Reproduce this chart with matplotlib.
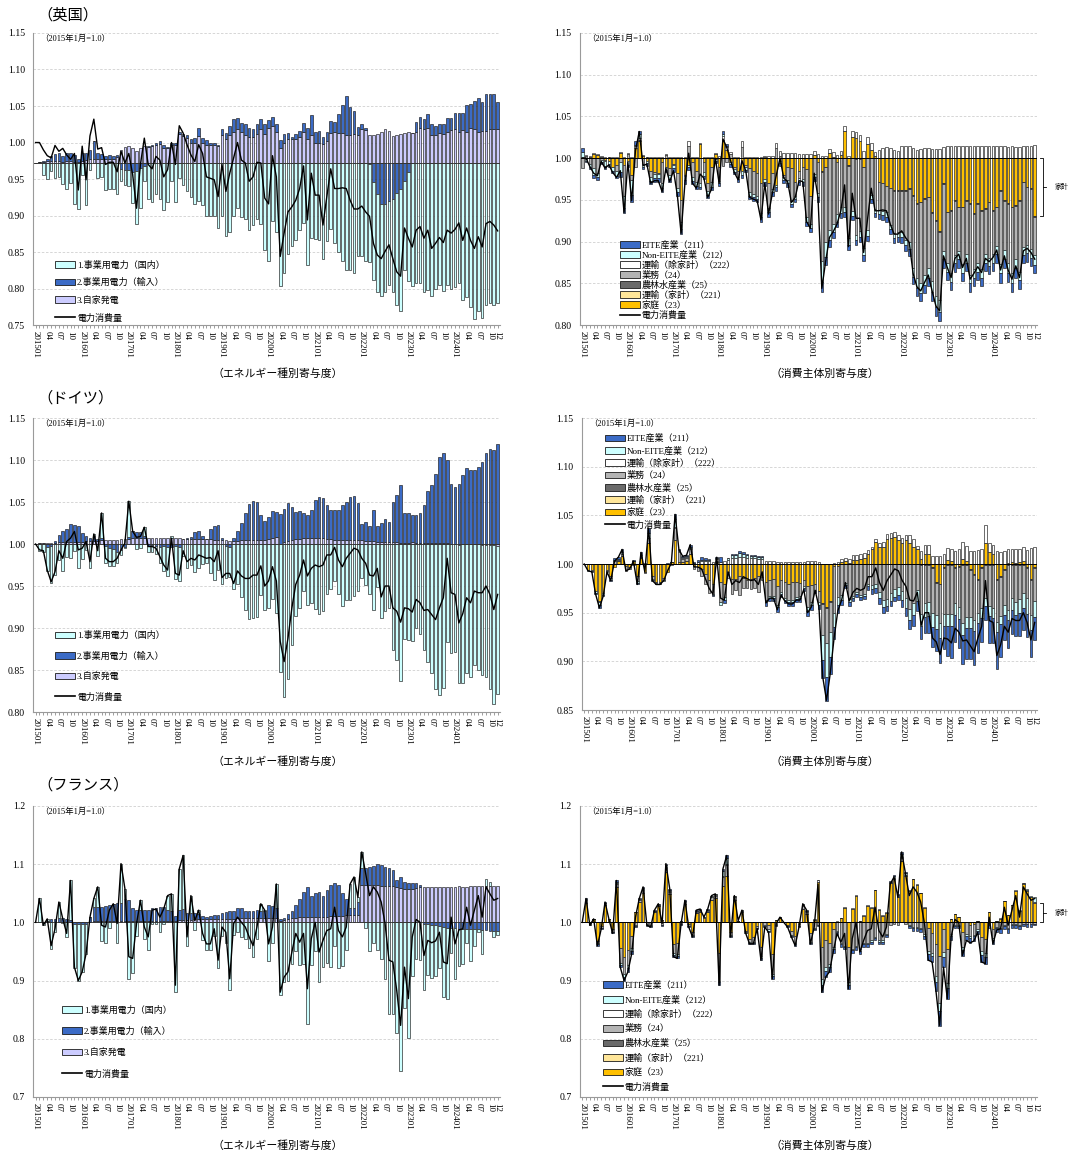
import numpy as np
import matplotlib.pyplot as plt
from matplotlib.patches import Patch
from matplotlib.lines import Line2D
from matplotlib.ticker import FormatStrFormatter
from matplotlib.transforms import blended_transform_factory

plt.rcParams['font.family'] = ['Liberation Serif', 'Noto Sans CJK JP']

# 2015年1月～2024年12月（月次）
months = [f'{y}{m:02d}' for y in range(2015, 2025) for m in range(1, 13)]
tick_labels = [m if m.endswith('01') else (m[4:] if int(m[4:]) % 3 == 1 else '') for m in months]
tick_labels[-1] = '12'

# ---------------- 英国 ----------------
# 電力消費量（2015年1月=100）
uk_line = [
    [100.0, 100.0, 99.0, 98.2, 97.9, 99.6, 98.8, 99.2, 98.3, 97.7, 98.5, 93.5],
    [99.5, 94.9, 100.9, 103.2, 99.1, 99.3, 97.0, 97.3, 97.3, 96.0, 98.8, 97.2],
    [98.5, 95.6, 91.0, 97.0, 100.6, 97.0, 96.4, 98.1, 97.6, 95.3, 96.3, 100.0],
    [97.0, 102.3, 101.3, 99.7, 98.3, 97.4, 99.7, 98.5, 95.3, 95.1, 94.9, 92.6],
    [97.0, 93.3, 95.8, 97.9, 100.0, 97.6, 97.2, 94.7, 95.3, 97.3, 97.2, 92.4],
    [91.6, 98.2, 95.3, 84.4, 87.6, 90.5, 91.2, 92.1, 93.7, 96.8, 89.4, 95.8],
    [92.8, 92.8, 88.7, 92.6, 96.4, 93.7, 93.7, 93.8, 93.7, 92.1, 90.9, 90.9],
    [91.3, 90.5, 89.9, 86.2, 84.6, 84.1, 85.1, 86.0, 84.1, 82.3, 81.7, 88.3],
    [86.9, 85.7, 88.0, 88.5, 86.9, 88.0, 85.5, 86.2, 87.0, 86.3, 88.0, 87.6],
    [88.1, 89.0, 86.6, 88.3, 86.6, 85.5, 87.1, 85.7, 88.9, 89.2, 88.7, 87.9],
]
# エネルギー種別寄与度（%ポイント）
uk_own = [
    [0.0, 0.1, 0.2, 0.3, 0.3, 0.3, 0.3, 0.2, 0.3, 0.3, 0.2, 0.2],
    [0.3, 0.4, 0.5, 0.6, 0.6, 0.5, 0.5, 0.5, 0.5, 0.8, 1.8, 2.2],
    [2.3, 2.1, 1.6, 2.1, 2.3, 2.2, 2.3, 2.4, 2.6, 2.1, 2.0, 2.5],
    [2.5, 4.0, 3.7, 3.4, 2.8, 2.8, 3.7, 2.7, 2.5, 2.4, 2.4, 2.3],
    [3.8, 3.3, 3.8, 4.3, 4.6, 4.3, 3.8, 3.6, 3.6, 4.0, 4.6, 4.0],
    [4.8, 5.0, 4.3, 2.1, 2.8, 3.3, 3.3, 3.3, 3.6, 4.3, 3.3, 3.8],
    [2.8, 2.8, 2.6, 3.0, 4.1, 4.3, 4.1, 4.1, 3.8, 3.8, 4.0, 3.8],
    [4.6, 4.5, 3.8, 3.8, 4.0, 4.3, 4.6, 4.4, 3.7, 3.8, 4.0, 4.1],
    [4.3, 4.1, 4.3, 4.8, 4.6, 4.8, 3.8, 3.8, 4.1, 4.0, 4.3, 4.5],
    [4.6, 4.3, 4.5, 4.3, 4.8, 4.6, 4.3, 4.4, 4.4, 4.6, 4.6, 4.7],
]
uk_imp = [
    [0.0, 0.1, 0.1, 0.3, 0.7, 0.9, 1.0, 0.8, 1.1, 1.0, 0.9, 0.4],
    [1.0, 1.0, 1.3, 2.4, 0.7, 0.7, 0.5, 0.6, 0.5, 0.3, -0.8, -1.0],
    [-1.0, -1.2, -1.1, -0.7, -0.4, 0.1, 0.2, 0.4, 0.4, 0.3, 0.2, 0.2],
    [0.3, 0.3, 0.3, 0.4, 0.5, 0.6, 1.1, 0.7, 0.6, 0.4, 0.3, 0.2],
    [0.8, 0.8, 1.3, 1.7, 1.6, 1.2, 1.5, 1.2, 1.1, 1.3, 1.4, 1.3],
    [1.1, 1.3, 1.1, 1.0, 1.1, 0.8, 0.3, 0.7, 0.8, 1.2, 1.5, 2.8],
    [1.5, 1.6, 1.0, 1.3, 1.7, 1.3, 2.6, 3.9, 5.4, 3.9, 3.1, 1.1],
    [0.7, 0.3, -0.2, -2.6, -4.2, -5.6, -5.6, -5.2, -4.9, -4.1, -3.5, -2.5],
    [-1.2, 0.0, 1.3, 1.5, 1.4, 1.9, 1.5, 1.2, 1.2, 1.4, 1.9, 1.7],
    [2.2, 2.5, 2.3, 3.7, 3.3, 3.9, 4.6, 3.9, 5.1, 4.9, 4.9, 3.6],
]
uk_dom = [
    [0.0, 0.0, -1.6, -2.2, -1.1, -2.1, -1.9, -2.9, -3.5, -2.7, -5.6, -6.3],
    [-1.7, -5.8, -0.9, 0.0, -2.1, -1.9, -3.7, -3.5, -3.5, -4.3, -1.7, -2.0],
    [-2.2, -4.3, -7.3, -5.4, -2.0, -5.0, -5.3, -4.2, -5.0, -6.5, -5.3, -2.5],
    [-5.3, -2.1, -3.0, -3.8, -4.7, -5.6, -5.2, -5.8, -7.3, -7.2, -7.2, -8.9],
    [-7.2, -10.0, -9.4, -7.2, -6.2, -7.4, -7.7, -9.2, -8.5, -7.7, -8.4, -11.9],
    [-13.4, -7.9, -9.5, -16.8, -15.1, -12.5, -11.4, -10.6, -9.2, -8.2, -14.0, -10.3],
    [-10.4, -10.5, -13.2, -10.7, -9.0, -11.0, -12.2, -13.4, -14.7, -14.7, -15.0, -12.7],
    [-12.8, -13.4, -13.4, -13.4, -13.4, -12.6, -12.1, -11.5, -12.8, -15.3, -16.7, -12.1],
    [-15.0, -16.8, -16.4, -16.5, -17.6, -17.4, -18.2, -17.3, -16.7, -17.5, -16.7, -17.2],
    [-17.0, -16.5, -18.7, -18.4, -19.7, -21.4, -20.3, -21.2, -19.4, -19.2, -19.5, -19.2],
]
# 消費主体別寄与度（%ポイント）
uk_eite = [
    [0.5, -0.1, -0.2, -0.4, -0.3, -0.2, -0.4, -0.3, -0.3, -0.3, -0.5, -0.6],
    [-0.3, -0.8, 0.4, 0.3, -0.3, -0.3, -0.4, -0.4, -0.4, -0.5, -0.3, -0.4],
    [-0.4, -0.4, -0.6, -0.5, -0.3, -0.4, -0.4, -0.3, -0.4, -0.4, -0.4, -0.3],
    [-0.3, 0.3, 0.2, -0.3, -0.3, -0.3, -0.4, -0.3, -0.4, -0.4, -0.4, -0.5],
    [-0.4, -0.5, -0.4, -0.4, -0.3, -0.4, -0.4, -0.4, -0.4, -0.4, -0.4, -0.5],
    [-0.5, -0.4, -0.5, -1.2, -1.0, -0.8, -0.7, -0.6, -0.6, -0.5, -0.6, -0.5],
    [-0.6, -0.6, -0.7, -0.6, -0.5, -0.5, -0.6, -0.6, -0.6, -0.6, -0.6, -0.7],
    [-0.7, -0.7, -0.8, -0.9, -1.0, -1.0, -1.0, -1.0, -1.1, -1.1, -1.1, -1.0],
    [-1.0, -1.0, -1.0, -1.0, -1.0, -1.0, -1.0, -1.0, -1.0, -1.0, -1.0, -1.0],
    [-1.0, -1.0, -1.1, -1.1, -1.1, -1.1, -1.1, -1.1, -1.0, -1.0, -1.0, -1.0],
]
uk_neite = [
    [0.6, -0.2, -0.4, -0.8, -0.5, -0.3, -0.6, -0.4, -0.4, -0.6, -1.2, -1.5],
    [-0.5, -1.8, 0.2, 0.5, -0.3, -0.3, -0.5, -0.5, -0.5, -0.6, -0.4, -0.5],
    [-0.4, -0.5, -0.8, -0.5, -0.3, -0.5, -0.5, -0.4, -0.5, -0.5, -0.5, -0.2],
    [-0.3, 0.3, 0.2, -0.2, -0.3, -0.3, -0.5, -0.3, -0.4, -0.4, -0.4, -0.5],
    [-0.4, -0.5, -0.4, -0.3, -0.3, -0.3, -0.4, -0.4, -0.4, -0.4, -0.4, -0.5],
    [-0.5, -0.4, -0.5, -2.5, -1.8, -1.2, -1.0, -1.0, -0.8, -0.6, -0.8, -0.6],
    [-0.6, -0.8, -0.8, -0.7, -0.5, -0.5, -0.5, -0.5, -0.5, -0.5, -0.6, -0.6],
    [-0.6, -0.6, -0.8, -1.0, -1.2, -1.2, -1.2, -1.2, -1.3, -1.3, -1.4, -1.0],
    [-1.0, -1.0, -1.0, -1.0, -1.0, -1.0, -1.0, -1.0, -1.0, -1.0, -1.0, -1.0],
    [-1.0, -1.0, -1.1, -1.1, -1.1, -1.1, -1.1, -1.0, -1.0, -1.0, -1.0, -1.2],
]
uk_trn = [
    [0.1, 0.1, 0.1, 0.1, 0.1, 0.1, 0.1, 0.1, 0.1, 0.1, 0.1, 0.1],
    [0.1, 0.1, 0.2, 0.2, 0.1, 0.1, 0.1, 0.1, 0.1, 0.1, 0.1, 0.1],
    [0.1, 0.1, 0.1, 0.1, 0.6, 0.1, 0.1, 0.1, 0.1, 0.1, 0.1, 0.1],
    [0.3, 0.4, 0.3, 0.2, 0.2, 0.2, 0.8, 0.2, 0.2, 0.2, 0.2, 0.2],
    [0.2, 0.3, 0.3, 0.6, 0.6, 0.6, 0.6, 0.6, 0.6, 0.5, 0.5, 0.5],
    [0.5, 0.5, 0.5, 0.3, 0.3, 0.5, 0.6, 0.4, 0.5, 0.5, 0.3, 0.7],
    [0.7, 0.8, 0.9, 0.8, 0.8, 0.5, 1.0, 1.2, 1.3, 1.2, 1.0, 0.9],
    [1.4, 1.5, 1.5, 1.2, 1.0, 1.1, 1.2, 1.2, 1.1, 1.1, 1.1, 1.3],
    [1.4, 1.4, 1.5, 1.5, 1.5, 1.4, 1.4, 1.4, 1.5, 1.5, 1.4, 1.4],
    [1.5, 1.4, 1.4, 1.4, 1.3, 1.4, 1.3, 1.3, 1.4, 1.5, 1.5, 1.6],
]
uk_biz = [
    [-1.2, 0.3, -0.7, -1.2, -1.8, -0.2, -0.1, 0.1, -0.1, -0.7, -0.5, -3.7],
    [0.5, -0.6, -1.1, 0.2, -0.7, 0.1, -0.7, -0.3, -0.1, -2.5, 0.4, -0.8],
    [-0.1, -1.8, -2.7, -0.1, 1.4, -1.7, -1.3, -3.0, -1.1, -0.9, -1.9, -0.1],
    [-1.7, -0.9, -0.4, 0.5, -0.3, -0.7, 1.3, -0.3, -2.9, -2.8, -2.7, -3.6],
    [0.1, -3.0, -1.9, 1.2, 0.3, -0.3, -1.6, -3.9, -1.7, -0.9, -1.5, -5.8],
    [-3.4, -1.9, -3.7, -10.7, -8.9, -8.6, -7.9, -6.2, -5.8, -5.9, -8.7, -6.3],
    [-9.1, -8.6, -9.7, -8.6, -4.4, -6.1, -3.4, -3.3, -3.2, -4.4, -5.1, -4.9],
    [-5.0, -5.9, -6.4, -8.7, -8.8, -9.6, -9.1, -8.4, -8.1, -9.0, -8.2, -8.0],
    [-6.1, -7.5, -6.5, -5.2, -6.8, -6.4, -8.5, -6.6, -7.1, -7.0, -5.4, -6.6],
    [-5.2, -4.6, -8.8, -5.9, -7.1, -7.9, -6.4, -8.5, -7.7, -6.9, -7.2, -4.6],
]
uk_agr = [
    [0.0, 0.0, 0.0, 0.0, 0.0, 0.0, 0.0, 0.0, 0.0, 0.0, 0.0, 0.0],
    [0.0, 0.0, 0.0, 0.0, 0.0, 0.0, 0.0, 0.0, 0.0, 0.0, 0.0, 0.0],
    [0.0, 0.0, 0.0, 0.0, 0.0, 0.0, 0.0, 0.0, 0.0, 0.0, 0.0, 0.0],
    [0.0, 0.0, 0.0, 0.0, 0.0, 0.0, 0.0, 0.0, 0.0, 0.0, 0.0, 0.0],
    [0.0, 0.0, 0.0, 0.0, 0.0, 0.0, 0.0, 0.0, 0.0, 0.0, 0.0, 0.0],
    [0.0, 0.0, 0.0, -0.1, -0.1, 0.0, 0.0, 0.0, 0.0, 0.0, -0.1, 0.0],
    [-0.1, -0.1, -0.1, 0.0, 0.0, 0.0, 0.0, 0.0, 0.0, 0.0, -0.1, -0.1],
    [-0.1, -0.1, -0.1, -0.1, -0.1, -0.1, -0.1, -0.1, -0.1, -0.1, -0.1, -0.1],
    [-0.1, -0.1, -0.1, -0.1, -0.1, -0.1, -0.1, -0.1, -0.1, -0.1, -0.1, -0.1],
    [-0.1, -0.1, -0.1, -0.1, -0.1, -0.1, -0.1, -0.1, -0.1, -0.1, -0.1, -0.1],
]
uk_trh = [
    [0.0, 0.0, 0.0, 0.0, 0.0, 0.0, 0.0, 0.0, 0.0, 0.0, 0.0, 0.0],
    [0.0, 0.0, 0.0, 0.0, 0.0, 0.0, 0.0, 0.0, 0.0, 0.0, 0.0, 0.0],
    [0.0, 0.0, 0.0, 0.0, 0.0, 0.0, 0.0, 0.0, 0.0, 0.0, 0.0, 0.0],
    [0.0, 0.0, 0.0, 0.0, 0.0, 0.0, 0.0, 0.0, 0.0, 0.0, 0.0, 0.0],
    [0.0, 0.0, 0.0, 0.0, 0.0, 0.0, 0.0, 0.0, 0.0, 0.0, 0.0, 0.0],
    [0.0, 0.0, 0.0, 0.0, 0.0, 0.0, 0.0, 0.0, 0.0, 0.0, 0.0, 0.0],
    [0.0, 0.0, 0.0, 0.0, 0.0, 0.0, 0.0, 0.0, 0.0, 0.0, 0.0, 0.0],
    [0.0, 0.0, 0.0, 0.0, 0.0, 0.0, 0.0, 0.0, 0.0, 0.0, 0.0, 0.0],
    [0.0, 0.0, 0.0, 0.0, 0.0, 0.0, 0.0, 0.0, 0.0, 0.0, 0.0, 0.0],
    [0.0, 0.0, 0.0, 0.0, 0.0, 0.0, 0.0, 0.0, 0.0, 0.0, 0.0, 0.0],
]
uk_hh = [
    [0.0, -0.1, 0.2, 0.5, 0.4, 0.2, -0.2, -0.3, -1.0, -0.8, 0.6, -0.8],
    [-0.3, -2.0, 1.2, 2.0, 0.3, -0.3, -1.5, -1.6, -1.8, -0.5, -1.0, -1.2],
    [-0.7, -1.8, -5.0, -2.0, -0.8, -0.5, -1.5, 1.7, -0.5, -3.0, -1.0, 0.5],
    [-1.0, 2.2, 1.0, -0.5, -1.0, -1.5, -1.5, -0.8, -1.2, -1.5, -1.8, -3.0],
    [-2.5, -3.0, -1.8, -3.2, -0.3, -2.0, -1.0, -1.2, -2.8, -1.5, -1.0, -1.3],
    [-4.5, 0.4, -0.5, -1.5, -1.0, 0.6, 0.2, -0.5, 0.4, 3.3, -0.8, 2.5],
    [2.4, 2.0, -1.0, 1.7, 1.0, 0.3, -2.8, -3.0, -3.3, -3.6, -3.8, -3.8],
    [-3.8, -3.8, -3.6, -4.4, -5.4, -5.2, -4.8, -4.6, -6.5, -7.4, -8.7, -3.0],
    [-6.4, -6.2, -5.0, -5.8, -5.8, -5.0, -5.4, -6.6, -5.4, -6.2, -6.0, -5.2],
    [-6.2, -5.8, -3.8, -5.0, -5.4, -5.8, -5.6, -5.0, -2.8, -3.4, -3.6, -6.9],
]

# ---------------- ドイツ ----------------
de_line = [
    [100.0, 99.3, 99.2, 96.9, 95.5, 96.7, 99.2, 98.3, 100.3, 100.7, 101.5, 99.3],
    [99.5, 100.3, 97.9, 101.2, 99.2, 103.7, 98.3, 97.9, 97.9, 98.3, 99.3, 100.1],
    [105.1, 101.5, 100.8, 100.9, 102.0, 99.7, 99.7, 99.5, 98.5, 97.5, 96.9, 100.7],
    [96.5, 96.3, 99.2, 97.9, 98.3, 98.1, 98.7, 98.5, 98.3, 98.4, 97.9, 99.2],
    [96.0, 96.5, 96.5, 95.3, 96.8, 96.2, 95.9, 95.9, 96.3, 96.3, 97.4, 95.0],
    [95.6, 97.3, 95.6, 88.4, 86.0, 88.8, 92.4, 95.2, 96.3, 98.1, 96.2, 97.1],
    [97.5, 97.3, 97.5, 98.7, 98.7, 99.6, 98.1, 97.3, 98.3, 98.9, 99.5, 99.3],
    [98.3, 97.7, 96.3, 96.2, 97.1, 93.7, 95.0, 95.0, 92.4, 92.0, 90.7, 92.4],
    [92.3, 91.9, 93.4, 93.0, 92.1, 92.2, 91.6, 91.0, 92.4, 93.6, 98.3, 94.2],
    [94.0, 90.6, 91.7, 93.6, 93.0, 94.4, 94.2, 94.2, 95.0, 94.0, 92.2, 94.0],
]
de_own = [
    [0.0, 0.1, 0.1, 0.1, 0.1, 0.1, 0.2, 0.2, 0.2, 0.2, 0.3, 0.3],
    [0.3, 0.4, 0.4, 0.4, 0.4, 0.5, 0.5, 0.5, 0.5, 0.5, 0.6, 0.6],
    [0.6, 0.7, 0.7, 0.7, 0.7, 0.7, 0.7, 0.7, 0.7, 0.7, 0.7, 0.7],
    [0.7, 0.7, 0.6, 0.6, 0.6, 0.6, 0.6, 0.6, 0.6, 0.6, 0.5, 0.5],
    [0.5, 0.5, 0.4, 0.4, 0.4, 0.5, 0.5, 0.5, 0.5, 0.5, 0.5, 0.5],
    [0.6, 0.7, 0.8, 0.0, 0.2, 0.4, 0.5, 0.6, 0.6, 0.7, 0.7, 0.7],
    [0.7, 0.7, 0.7, 0.6, 0.6, 0.5, 0.5, 0.5, 0.5, 0.5, 0.5, 0.5],
    [0.5, 0.4, 0.4, 0.4, 0.3, 0.3, 0.3, 0.2, 0.2, 0.2, 0.1, 0.1],
    [0.1, 0.2, 0.1, 0.1, 0.1, 0.1, 0.1, 0.1, 0.1, 0.1, 0.1, 0.0],
    [0.0, -0.1, 0.0, 0.0, 0.0, 0.0, 0.0, -0.1, -0.1, -0.1, -0.1, -0.2],
]
de_imp = [
    [0.0, 0.0, 0.0, -0.4, -0.2, 0.3, 0.9, 1.3, 1.6, 2.2, 2.0, 1.9],
    [1.0, 0.6, 0.3, 0.5, 0.2, 0.2, -0.2, -0.5, -0.6, -0.9, -0.7, -0.3],
    [0.2, 0.8, 0.7, 0.7, 0.2, -0.2, -0.1, -0.2, -0.3, -0.2, -0.3, -0.3],
    [-0.2, -0.3, 0.0, 0.1, 0.2, 0.8, 0.9, 0.3, 0.0, 1.2, 1.6, 1.8],
    [0.2, -0.2, -0.4, 0.3, 1.2, 2.0, 3.2, 4.3, 4.6, 4.5, 3.0, 2.3],
    [2.6, 3.2, 3.0, 3.6, 4.0, 4.5, 3.9, 3.2, 3.3, 3.0, 2.8, 3.4],
    [4.5, 4.9, 4.8, 4.1, 3.4, 3.5, 3.6, 4.2, 4.5, 5.1, 5.2, 4.4],
    [1.9, 2.2, 1.8, 3.6, 1.9, 2.2, 2.7, 2.4, 4.8, 5.6, 6.9, 3.6],
    [3.6, 3.3, 3.3, 3.6, 4.6, 6.2, 6.9, 8.2, 10.3, 10.7, 9.9, 7.2],
    [6.8, 7.1, 8.2, 9.0, 8.8, 8.8, 9.2, 9.8, 10.8, 11.3, 11.2, 11.9],
]
de_dom = [
    [0.0, -0.8, -0.9, -2.8, -4.4, -3.7, -1.9, -3.2, -1.5, -1.7, -0.8, -2.9],
    [-1.8, -0.7, -2.8, 0.3, -1.4, 3.0, -2.0, -2.1, -2.0, -1.3, -0.6, -0.2],
    [4.3, 0.0, -0.6, -0.5, 1.1, -0.8, -0.9, -1.0, -1.9, -3.0, -3.5, 0.3],
    [-4.0, -4.1, -1.4, -2.8, -2.5, -3.3, -2.8, -2.4, -2.3, -3.4, -4.3, -3.1],
    [-4.7, -3.8, -3.5, -5.4, -4.8, -6.3, -7.8, -8.9, -8.8, -8.7, -6.1, -7.8],
    [-7.6, -6.6, -8.2, -15.2, -18.2, -16.1, -12.0, -8.6, -7.6, -5.6, -7.3, -7.0],
    [-7.7, -8.3, -8.0, -6.0, -5.3, -4.4, -6.0, -7.4, -6.7, -6.7, -6.2, -5.6],
    [-4.1, -4.9, -5.9, -7.8, -5.1, -8.8, -8.0, -7.6, -12.6, -13.8, -16.3, -11.3],
    [-11.4, -11.6, -10.0, -10.7, -12.6, -14.1, -15.4, -17.3, -18.0, -17.2, -11.7, -13.0],
    [-12.8, -16.4, -16.5, -15.4, -15.8, -14.4, -15.0, -15.5, -15.7, -17.2, -18.9, -17.7],
]
de_eite = [
    [0.0, 0.0, -0.1, -0.1, -0.3, -0.1, 0.0, -0.1, 0.2, 0.2, 0.3, 0.0],
    [0.0, 0.1, -0.2, 0.3, 0.1, 0.5, -0.1, -0.1, -0.1, 0.0, 0.1, 0.0],
    [0.5, 0.1, 0.1, 0.1, 0.2, 0.1, 0.2, 0.3, 0.2, 0.1, -0.1, 0.1],
    [0.5, -0.3, 0.0, 0.1, 0.1, 0.2, 0.2, 0.1, 0.1, 0.1, 0.1, 0.1],
    [-0.4, -0.3, -0.3, -0.5, -0.3, -0.3, -0.4, -0.4, -0.3, -0.4, -0.3, -0.5],
    [-0.5, -0.2, -0.4, -1.8, -2.5, -1.8, -1.2, -0.8, -0.5, -0.3, -0.4, -0.3],
    [-0.3, -0.3, -0.3, -0.4, -0.5, -0.5, -0.6, -0.6, -0.5, -0.5, -0.4, -0.5],
    [-0.7, -0.8, -1.0, -1.2, -1.0, -1.3, -1.7, -1.8, -2.0, -2.2, -2.6, -2.3],
    [-3.0, -3.3, -2.8, -3.0, -3.0, -3.2, -3.2, -3.5, -3.0, -2.5, -1.5, -2.8],
    [-2.6, -3.8, -3.4, -2.6, -2.9, -2.5, -2.2, -2.4, -2.3, -2.4, -2.7, -2.4],
]
de_neite = [
    [0.0, -0.1, -0.1, -0.2, -0.3, -0.2, -0.1, -0.2, 0.1, 0.1, 0.2, 0.0],
    [0.0, 0.0, -0.2, 0.2, 0.0, 0.5, -0.1, -0.1, -0.1, -0.1, 0.0, 0.0],
    [0.8, 0.1, 0.1, 0.1, 0.2, 0.0, 0.0, 0.1, 0.1, 0.1, -0.1, 0.1],
    [-0.3, -0.3, 0.2, 0.3, 0.3, 0.4, 0.3, 0.3, 0.2, 0.2, 0.2, 0.2],
    [-0.2, -0.2, -0.2, -0.2, -0.2, -0.2, -0.2, -0.2, -0.2, -0.2, -0.2, -0.4],
    [-0.3, -0.1, -0.3, -2.6, -3.5, -2.5, -1.5, -0.8, -0.5, -0.3, -0.3, -0.2],
    [-0.2, -0.2, -0.2, -0.3, -0.4, -0.5, -0.6, -0.7, -0.7, -0.8, -0.8, -0.8],
    [-0.9, -1.0, -1.1, -1.2, -1.1, -1.3, -1.4, -1.4, -1.5, -1.5, -1.5, -1.3],
    [-1.3, -1.3, -1.2, -1.2, -1.2, -1.2, -1.2, -1.1, -1.1, -1.0, -0.8, -1.0],
    [-1.0, -1.0, -0.9, -1.0, -1.0, -1.2, -1.3, -1.4, -1.5, -1.6, -1.6, -1.6],
]
de_trn = [
    [0.0, 0.0, 0.0, 0.0, 0.0, 0.0, 0.0, 0.0, 0.0, 0.0, 0.0, 0.0],
    [0.0, 0.0, 0.0, 0.0, 0.0, 0.0, 0.0, 0.0, 0.0, 0.0, 0.0, 0.0],
    [0.1, 0.1, 0.1, 0.1, 0.1, 0.1, 0.2, 0.3, 0.3, 0.3, 0.2, 0.2],
    [0.2, 0.3, 0.4, 0.6, 0.6, 0.7, 0.7, 0.6, 0.6, 0.6, 0.5, 0.5],
    [0.3, 0.3, 0.3, 0.2, 0.2, 0.2, 0.2, 0.2, 0.2, 0.2, 0.2, 0.3],
    [0.3, 0.3, 0.2, 0.0, 0.0, 0.0, 0.1, 0.2, 0.3, 0.3, 0.4, 0.5],
    [0.5, 0.5, 0.5, 0.4, 0.3, 0.3, 0.4, 0.5, 0.5, 0.5, 0.5, 0.5],
    [0.5, 0.5, 0.8, 0.8, 0.4, 0.8, 1.0, 1.0, 0.8, 0.8, 0.8, 1.0],
    [1.2, 1.2, 1.3, 1.5, 1.8, 1.6, 1.3, 1.3, 1.4, 1.5, 1.8, 1.0],
    [1.0, 1.3, 1.2, 1.3, 1.4, 1.3, 1.4, 1.3, 1.4, 1.4, 1.6, 1.7],
]
de_biz = [
    [0.0, 0.0, 0.0, 0.0, -0.1, 0.0, -0.1, -0.2, 0.3, 0.1, 0.2, -0.5],
    [-0.2, -0.1, -0.5, 0.1, -0.1, 0.5, -0.3, -0.1, -0.1, -0.2, 0.0, -0.1],
    [1.2, 1.0, 0.3, 0.3, 0.5, -0.3, -0.4, -0.7, -1.1, -1.4, -1.1, 0.1],
    [-2.1, -1.4, -0.6, -1.6, -1.2, -2.0, -1.1, -0.9, -1.1, -1.1, -1.7, -0.3],
    [-1.9, -1.7, -1.8, -1.9, -1.3, -1.7, -1.7, -1.9, -1.6, -1.4, -0.7, -2.1],
    [-1.7, -0.7, -1.1, -3.2, -3.6, -3.1, -4.8, -3.2, -3.2, -1.9, -3.6, -3.3],
    [-2.9, -3.2, -3.1, -2.0, -2.2, -2.0, -2.9, -3.7, -3.6, -3.0, -2.6, -2.4],
    [-2.8, -3.5, -4.6, -4.0, -2.7, -5.0, -3.9, -3.8, -4.6, -3.3, -4.0, -4.7],
    [-5.0, -5.0, -3.6, -4.1, -6.0, -5.3, -4.8, -4.7, -3.4, -4.1, -3.4, -4.2],
    [-4.4, -4.4, -4.0, -3.6, -4.6, -3.4, -3.8, -3.5, -2.9, -3.1, -3.6, -3.4],
]
de_agr = [
    [0.0, 0.0, 0.0, 0.0, 0.0, 0.0, 0.0, 0.0, 0.0, 0.0, 0.0, 0.0],
    [0.0, 0.0, 0.0, 0.0, 0.0, 0.0, 0.0, 0.0, 0.0, 0.0, 0.0, 0.0],
    [0.0, 0.0, 0.0, 0.0, 0.0, 0.0, 0.0, 0.0, 0.0, 0.0, 0.0, 0.0],
    [0.0, 0.0, 0.0, 0.0, 0.0, 0.0, 0.0, 0.0, 0.0, 0.0, 0.0, 0.0],
    [0.0, 0.0, 0.0, 0.0, 0.0, 0.0, 0.0, 0.0, 0.0, 0.0, 0.0, 0.0],
    [0.0, 0.0, 0.0, -0.1, -0.1, -0.1, 0.0, 0.0, 0.0, 0.0, 0.0, 0.0],
    [0.0, 0.0, 0.0, 0.0, 0.0, 0.0, 0.0, 0.0, 0.0, 0.0, 0.0, 0.0],
    [0.0, 0.0, 0.0, 0.0, 0.0, -0.1, -0.1, -0.1, -0.1, -0.1, -0.1, -0.1],
    [-0.1, -0.1, -0.1, -0.1, -0.1, -0.1, -0.1, -0.1, -0.1, -0.1, -0.1, -0.1],
    [-0.1, -0.1, -0.1, -0.1, -0.1, -0.1, -0.1, -0.1, -0.1, -0.1, -0.1, -0.1],
]
de_trh = [
    [0.0, 0.0, 0.0, 0.0, 0.0, 0.0, 0.0, 0.0, 0.0, 0.0, 0.0, 0.0],
    [0.0, 0.0, 0.0, 0.0, 0.0, 0.0, 0.0, 0.0, 0.0, 0.0, 0.0, 0.0],
    [0.0, 0.0, 0.0, 0.0, 0.0, 0.0, 0.0, 0.0, 0.0, 0.0, 0.0, 0.0],
    [0.0, 0.0, 0.0, 0.0, 0.0, 0.0, 0.0, 0.0, 0.0, 0.0, 0.0, 0.0],
    [0.0, 0.0, 0.0, 0.0, 0.0, 0.0, 0.0, 0.0, 0.0, 0.0, 0.0, 0.0],
    [0.0, 0.0, 0.0, 0.0, 0.0, 0.0, 0.0, 0.0, 0.0, 0.0, 0.0, 0.0],
    [0.0, 0.0, 0.0, 0.0, 0.0, 0.0, 0.0, 0.0, 0.0, 0.0, 0.0, 0.0],
    [0.0, 0.0, 0.0, 0.0, 0.0, 0.0, 0.0, 0.0, 0.0, 0.0, 0.0, 0.0],
    [0.0, 0.0, 0.0, 0.0, 0.0, 0.0, 0.0, 0.0, 0.0, 0.0, 0.0, 0.0],
    [0.0, 0.0, 0.0, 0.0, 0.0, 0.0, 0.0, 0.0, 0.0, 0.0, 0.0, 0.0],
]
de_hh = [
    [0.0, -0.6, -0.6, -2.8, -3.8, -3.0, -0.6, -1.2, -0.3, 0.3, 0.8, -0.2],
    [-0.3, 0.3, -1.2, 0.6, -0.8, 2.2, -1.2, -1.8, -1.8, -1.4, -0.8, 0.2],
    [2.5, 0.2, 0.2, 0.3, 1.0, -0.2, -0.3, -0.5, -1.0, -1.6, -2.0, 0.2],
    [-1.8, -2.0, -0.8, -1.5, -1.5, -1.2, -1.4, -1.6, -1.5, -1.4, -1.2, -1.3],
    [-1.8, -1.6, -1.5, -2.3, -1.6, -1.8, -2.0, -1.8, -1.8, -1.9, -1.6, -2.3],
    [-2.2, -2.0, -2.8, -4.0, -4.4, -3.8, -0.2, -0.2, 0.2, 0.3, 0.1, 0.4],
    [0.4, 0.5, 0.6, 1.0, 1.5, 2.3, 1.8, 1.8, 2.6, 2.7, 2.8, 2.5],
    [2.2, 2.5, 2.2, 1.8, 1.5, 0.5, 1.0, 1.0, -0.3, -1.8, -2.0, -0.3],
    [0.4, 0.3, -0.3, -0.2, 0.5, 0.3, -0.5, -1.0, -1.5, -0.3, 2.2, 1.2],
    [1.0, -1.5, -1.2, -0.5, 0.1, 0.2, 0.1, 0.2, 0.3, -0.3, -1.5, -0.3],
]

# ---------------- フランス ----------------
fr_line = [
    [100.0, 104.1, 99.5, 100.6, 96.0, 98.9, 103.5, 100.6, 98.1, 107.2, 92.3, 90.0],
    [91.5, 94.6, 100.9, 104.1, 106.1, 99.5, 99.2, 102.1, 103.2, 99.8, 110.1, 105.8],
    [94.1, 93.8, 99.8, 103.8, 99.2, 97.5, 102.1, 102.3, 100.9, 102.3, 104.6, 104.9],
    [89.2, 109.2, 111.5, 97.5, 104.6, 100.3, 102.1, 98.1, 96.3, 96.3, 98.9, 93.5],
    [99.2, 98.3, 90.3, 99.8, 100.9, 100.0, 99.2, 97.5, 96.0, 99.2, 103.2, 102.1],
    [96.3, 99.2, 106.6, 88.0, 90.6, 91.5, 94.9, 98.1, 96.6, 98.1, 88.6, 97.2],
    [100.0, 94.9, 96.9, 98.6, 98.9, 102.6, 98.6, 97.5, 99.2, 106.6, 107.8, 104.3],
    [112.1, 108.4, 104.6, 106.1, 105.2, 103.5, 99.8, 93.5, 93.2, 88.3, 82.3, 92.3],
    [86.9, 97.5, 100.5, 100.0, 94.3, 96.9, 96.5, 96.8, 98.3, 93.2, 92.9, 100.9],
    [96.3, 98.7, 98.9, 102.6, 99.5, 102.1, 104.6, 100.9, 106.1, 104.9, 103.8, 104.1],
]
fr_own = [
    [0.0, 0.0, 0.0, 0.1, 0.1, 0.1, 0.1, 0.1, 0.1, 0.1, 0.1, 0.1],
    [0.1, 0.1, 0.1, 0.2, 0.2, 0.2, 0.2, 0.2, 0.3, 0.3, 0.3, 0.3],
    [0.3, 0.3, 0.3, 0.3, 0.3, 0.3, 0.3, 0.3, 0.3, 0.3, 0.3, 0.3],
    [0.3, 0.4, 0.4, 0.4, 0.4, 0.5, 0.5, 0.5, 0.5, 0.5, 0.5, 0.5],
    [0.6, 0.6, 0.6, 0.6, 0.7, 0.7, 0.7, 0.7, 0.7, 0.8, 0.8, 0.8],
    [0.8, 0.8, 0.8, 0.3, 0.4, 0.6, 0.7, 0.8, 0.9, 1.0, 1.0, 1.0],
    [1.0, 1.0, 1.0, 1.0, 1.1, 1.1, 1.1, 1.1, 1.2, 1.2, 1.2, 1.3],
    [6.5, 6.5, 6.4, 6.4, 6.4, 6.3, 6.3, 6.2, 6.2, 6.0, 5.9, 5.8],
    [5.8, 5.8, 5.9, 6.0, 6.0, 6.0, 6.1, 6.1, 6.1, 6.0, 6.0, 6.1],
    [6.1, 6.2, 6.1, 6.1, 6.2, 6.2, 6.2, 6.3, 6.3, 6.3, 6.3, 6.3],
]
fr_imp = [
    [0.0, 0.0, 0.0, 0.2, 0.4, 0.5, 0.7, 0.6, 0.5, 0.3, -0.2, -0.3],
    [-0.3, -0.2, 0.8, 2.5, 2.5, 2.5, 2.6, 2.8, 2.9, 3.0, 3.0, 3.7],
    [3.5, 2.2, 1.8, 1.8, 1.8, 1.9, 2.1, 2.2, 2.3, 2.3, 1.9, 1.6],
    [0.8, 1.8, 1.9, 1.2, 1.2, 1.1, 0.9, 0.6, 0.5, 0.6, 0.8, 0.8],
    [1.0, 1.2, 1.4, 1.4, 1.8, 1.8, 1.3, 1.2, 1.3, 1.3, 1.2, 1.2],
    [2.2, 2.0, 1.7, 0.2, 0.4, 0.9, 1.3, 2.2, 3.1, 4.3, 5.0, 3.5],
    [4.0, 4.2, 3.5, 4.5, 5.4, 5.6, 5.4, 3.9, 2.8, 1.3, 1.3, 2.2],
    [2.8, 2.8, 3.1, 3.3, 3.6, 3.5, 3.2, 3.1, 2.8, 1.3, 1.9, 1.2],
    [1.0, 1.0, 0.9, 0.4, -0.2, -0.3, -0.4, -0.5, -0.6, -0.8, -0.9, -1.0],
    [-1.0, -1.1, -1.1, -1.1, -1.1, -1.2, -1.2, -1.3, -1.3, -1.4, -1.4, -1.5],
]
fr_dom = [
    [0.0, 4.1, -0.5, 0.3, -4.5, -1.7, 2.7, -0.1, -2.5, 6.8, -7.6, -9.8],
    [-8.3, -5.3, 0.0, 1.4, 3.4, -3.2, -3.6, -0.9, 0.0, -3.5, 6.8, 1.8],
    [-9.7, -8.7, -2.3, 1.7, -2.9, -4.7, -0.3, -0.2, -1.7, -0.3, 2.4, 3.0],
    [-11.9, 7.0, 9.2, -4.1, 3.0, -1.3, 0.7, -3.0, -4.7, -4.8, -2.4, -7.8],
    [-2.4, -3.5, -11.7, -2.2, -1.6, -2.5, -2.8, -4.4, -6.0, -2.9, 1.2, 0.1],
    [-6.7, -3.6, 4.1, -12.5, -10.2, -10.0, -7.1, -4.9, -7.4, -7.2, -17.4, -7.3],
    [-5.0, -10.3, -7.6, -6.9, -7.6, -4.1, -7.9, -7.5, -4.8, 4.1, 5.3, 0.8],
    [2.8, -0.9, -4.9, -3.6, -4.8, -6.3, -9.7, -15.8, -15.8, -19.0, -25.5, -14.7],
    [-19.9, -9.3, -6.3, -6.4, -11.5, -8.8, -9.2, -8.8, -7.2, -12.0, -12.2, -4.2],
    [-8.8, -6.4, -6.1, -2.4, -5.6, -2.9, -0.4, -4.1, 1.1, 0.7, -1.1, -0.7],
]
fr_eite = [
    [0.0, 0.1, -0.1, 0.0, -0.3, -0.1, 0.1, 0.0, -0.2, 0.2, -0.4, -0.6],
    [-0.6, -0.5, -0.2, 0.1, 0.2, -0.2, -0.2, 0.1, 0.1, -0.1, 0.3, 0.2],
    [-0.3, -0.4, -0.1, 0.1, -0.1, -0.2, 0.1, 0.1, 0.0, 0.1, 0.1, 0.1],
    [-0.5, 0.4, 0.5, -0.2, 0.1, 0.0, 0.0, -0.1, -0.2, -0.2, -0.1, -0.4],
    [-0.2, -0.3, -0.5, -0.2, 0.0, 0.0, -0.1, -0.2, -0.3, -0.1, 0.1, 0.1],
    [-0.3, -0.2, -0.1, -1.2, -1.0, -0.8, -0.6, -0.4, -0.4, -0.3, -0.8, -0.4],
    [-0.4, -0.5, -0.5, -0.5, -0.4, -0.3, -0.4, -0.4, -0.3, 0.1, 0.2, 0.1],
    [0.3, 0.2, -0.3, -0.4, -0.4, -0.4, -0.5, -1.0, -1.0, -1.5, -2.5, -1.8],
    [-1.8, -0.8, -0.4, -0.4, -1.0, -0.8, -0.8, -0.8, -0.6, -1.2, -1.2, -0.5],
    [-0.8, -0.6, -0.6, -0.5, -0.6, -0.5, -0.5, -0.6, -0.5, -0.5, -0.5, -0.3],
]
fr_neite = [
    [0.0, 0.1, -0.1, 0.0, -0.2, -0.1, 0.1, 0.0, -0.1, 0.3, -0.4, -0.5],
    [-0.6, -0.5, -0.1, 0.1, 0.2, -0.1, -0.1, 0.1, 0.1, -0.1, 0.3, 0.2],
    [-0.3, -0.3, 0.0, 0.1, -0.1, -0.1, 0.1, 0.1, 0.0, 0.1, 0.1, 0.1],
    [-0.3, 0.8, 0.9, -0.1, 0.1, 0.0, 0.1, -0.1, -0.1, -0.2, -0.1, -0.3],
    [-0.1, -0.2, -0.3, -0.1, 0.0, 0.0, -0.1, -0.1, -0.2, -0.1, 0.1, 0.1],
    [-0.2, -0.1, 0.0, -1.0, -0.8, -0.6, -0.4, -0.2, -0.3, -0.2, -0.5, -0.3],
    [-0.3, -0.4, -0.3, -0.3, -0.3, -0.2, -0.3, -0.3, -0.2, 0.2, 0.3, 0.2],
    [0.5, 0.3, -0.1, -0.2, -0.2, -0.2, -0.3, -0.5, -0.5, -1.0, -1.5, -0.8],
    [-0.8, -0.3, -0.1, -0.1, -0.5, -0.3, -0.3, -0.3, -0.2, -0.6, -0.6, -0.1],
    [-0.3, -0.2, -0.2, -0.1, -0.2, -0.1, -0.1, -0.1, 0.1, 0.2, 0.2, 0.8],
]
fr_trn = [
    [0.0, 0.0, 0.0, 0.0, 0.0, 0.0, 0.0, 0.0, 0.0, 0.1, 0.0, 0.0],
    [0.0, 0.0, 0.0, 0.1, 0.1, 0.0, 0.0, 0.0, 0.0, 0.0, 0.1, 0.1],
    [0.0, 0.0, 0.0, 0.1, 0.0, 0.0, 0.1, 0.1, 0.1, 0.1, 0.1, 0.1],
    [0.0, 0.2, 0.2, 0.0, 0.1, 0.0, 0.1, 0.0, 0.0, 0.0, 0.0, 0.0],
    [0.0, 0.0, 0.0, 0.0, 0.0, 0.0, 0.0, 0.0, 0.0, 0.0, 0.2, 0.2],
    [0.1, 0.1, 0.2, 0.0, 0.0, 0.0, 0.1, 0.1, 0.1, 0.1, 0.1, 0.1],
    [0.1, 0.1, 0.1, 0.1, 0.1, 0.1, 0.1, 0.1, 0.1, 0.1, 0.1, 0.1],
    [0.2, 0.2, 0.1, 0.1, 0.1, 0.1, 0.1, 0.0, 0.0, 0.0, 0.0, 0.0],
    [0.0, 0.0, 0.0, 0.0, 0.0, 0.0, 0.0, 0.0, 0.0, 0.0, 0.0, 0.0],
    [0.1, 0.1, 0.1, 0.1, 0.1, 0.1, 0.1, 0.1, 0.1, 0.1, 0.1, 0.2],
]
fr_biz = [
    [0.0, 0.5, -0.2, 0.1, -0.3, -0.2, 0.3, 0.0, -0.5, 0.6, -2.5, -3.0],
    [-2.5, -2.0, -0.5, 0.3, 0.5, -0.3, -0.5, 0.2, 0.2, -0.4, 0.8, 0.5],
    [-1.5, -2.0, -0.3, 0.3, -0.3, -0.5, 0.2, 0.2, 0.0, 0.2, 0.4, 0.4],
    [-4.8, 1.5, 2.0, -0.5, 0.5, 0.0, 0.2, -0.3, -0.5, -0.8, -0.3, -1.5],
    [-0.5, -0.8, -3.5, -0.3, 0.2, 0.0, -0.2, -0.8, -1.2, -0.4, 0.5, 0.3],
    [-1.5, -1.0, -0.5, -5.5, -4.5, -3.5, -3.0, -1.5, -3.5, -4.0, -6.0, -4.5],
    [-4.0, -4.5, -3.5, -3.5, -3.0, -2.5, -3.0, -3.0, -2.0, -0.5, -0.3, -0.5],
    [0.5, -0.3, -0.5, -0.8, -0.8, -1.0, -2.0, -4.0, -3.5, -5.5, -8.0, -4.0],
    [-6.0, -2.0, -0.5, -0.5, -2.5, -2.0, -2.0, -1.8, -1.2, -2.5, -2.5, -0.3],
    [-1.5, -0.8, -1.0, -0.5, -1.0, -0.3, -0.3, -0.5, -0.2, -0.3, -0.3, -0.2],
]
fr_agr = [
    [0.0, 0.0, 0.0, 0.0, 0.0, 0.0, 0.0, 0.0, 0.0, 0.0, 0.0, 0.0],
    [0.0, 0.0, 0.0, 0.0, 0.0, 0.0, 0.0, 0.0, 0.0, 0.0, 0.0, 0.0],
    [0.0, 0.0, 0.0, 0.0, 0.0, 0.0, 0.0, 0.0, 0.0, 0.0, 0.0, 0.0],
    [0.0, 0.0, 0.0, 0.0, 0.0, 0.0, 0.0, 0.0, 0.0, 0.0, 0.0, 0.0],
    [0.0, 0.0, 0.0, 0.0, 0.0, 0.0, 0.0, 0.0, 0.0, 0.0, 0.0, 0.0],
    [0.0, 0.0, 0.0, 0.0, 0.0, 0.0, 0.0, 0.0, 0.0, 0.0, 0.0, 0.0],
    [0.0, 0.0, 0.0, 0.0, 0.0, 0.0, 0.0, 0.0, 0.0, 0.0, 0.0, 0.0],
    [0.0, 0.0, 0.0, 0.0, 0.0, 0.0, 0.0, 0.0, 0.0, -0.1, -0.1, 0.0],
    [0.0, 0.0, 0.0, 0.0, 0.0, 0.0, 0.0, 0.0, 0.0, 0.0, 0.0, 0.0],
    [0.0, 0.0, 0.0, 0.0, 0.0, 0.0, 0.0, 0.0, 0.0, 0.0, 0.0, 0.0],
]
fr_trh = [
    [0.0, 0.0, 0.0, 0.0, 0.0, 0.0, 0.0, 0.0, 0.0, 0.0, 0.0, 0.0],
    [0.0, 0.0, 0.0, 0.0, 0.0, 0.0, 0.0, 0.0, 0.0, 0.0, 0.0, 0.0],
    [0.0, 0.0, 0.0, 0.0, 0.0, 0.0, 0.0, 0.0, 0.0, 0.0, 0.0, 0.0],
    [0.0, 0.0, 0.0, 0.0, 0.0, 0.0, 0.0, 0.0, 0.0, 0.0, 0.0, 0.0],
    [0.0, 0.0, 0.0, 0.0, 0.0, 0.0, 0.0, 0.0, 0.0, 0.0, 0.0, 0.0],
    [0.0, 0.0, 0.0, 0.0, 0.0, 0.0, 0.0, 0.0, 0.0, 0.0, 0.0, 0.0],
    [0.0, 0.0, 0.0, 0.0, 0.0, 0.0, 0.0, 0.0, 0.0, 0.0, 0.0, 0.0],
    [0.0, 0.0, 0.0, 0.0, 0.0, 0.0, 0.0, 0.0, 0.0, 0.0, 0.0, 0.0],
    [0.0, 0.0, 0.0, 0.0, 0.0, 0.0, 0.0, 0.0, 0.0, 0.0, 0.0, 0.0],
    [0.0, 0.0, 0.0, 0.0, 0.0, 0.0, 0.0, 0.0, 0.0, 0.0, 0.0, 0.0],
]
fr_hh = [
    [0.0, 3.4, -0.1, 0.5, -3.2, -0.7, 3.0, 0.6, -1.1, 6.0, -4.4, -5.9],
    [-4.8, -2.4, 1.7, 3.5, 5.1, 0.1, 0.0, 1.7, 2.8, 0.4, 8.6, 4.8],
    [-3.8, -3.5, 0.2, 3.2, -0.3, -1.7, 1.6, 1.8, 0.8, 1.8, 3.9, 4.2],
    [-5.2, 6.3, 7.9, -1.7, 3.8, 0.3, 1.7, -1.4, -2.9, -2.5, -0.6, -4.3],
    [0.0, -0.4, -5.4, 0.4, 0.7, 0.0, -0.4, -1.4, -2.3, -0.2, 2.3, 1.4],
    [-1.8, 0.4, 7.0, -4.3, -3.1, -3.6, -1.2, 0.1, 0.7, 2.5, -4.2, 2.3],
    [4.6, 0.2, 1.1, 2.8, 2.5, 5.5, 2.2, 1.1, 1.6, 6.7, 7.5, 4.4],
    [10.6, 8.0, 5.4, 7.4, 6.5, 5.0, 2.5, -1.0, -1.8, -3.7, -5.7, -1.1],
    [-4.5, 0.6, 1.5, 1.0, -1.7, 0.0, -0.4, -0.3, 0.3, -2.5, -2.8, 1.8],
    [-1.2, 0.2, 0.6, 3.6, 1.2, 2.9, 5.4, 2.0, 6.6, 5.4, 4.3, 3.3],
]

# 色
C_DOM, C_IMP, C_OWN = '#CCFFFF', '#3B6BC6', '#CCCCFF'
C_EITE, C_NEITE, C_TRN, C_BIZ = '#3B6BC6', '#CCFFFF', '#FFFFFF', '#B4B4B4'
C_AGR, C_TRH, C_HH = '#6A6A6A', '#FFE699', '#FFC000'

x = np.arange(len(months))


def stack(ax, series, colors, base):
    # 正の値は基準線から上へ、負の値は下へ積み上げる
    up = np.full(len(x), base, dtype=float)
    dn = np.full(len(x), base, dtype=float)
    for vals, col in zip(series, colors):
        v = np.ravel(vals) / 100
        bottom = np.where(v >= 0, up, dn)
        ax.bar(x, v, bottom=bottom, width=0.68, color=col, edgecolor='#1a1a1a',
               linewidth=0.45, zorder=2)
        up = up + np.clip(v, 0, None)
        dn = dn + np.clip(v, None, 0)


def style(ax, lo, hi, step, fmt):
    ax.set_xlim(-0.6, 119.6)
    ax.set_ylim(lo, hi)
    ax.set_yticks(np.arange(lo, hi + 1e-9, step))
    ax.yaxis.set_major_formatter(FormatStrFormatter(fmt))
    ax.grid(axis='y', color='#d0d0d0', linestyle=(0, (3, 2)), linewidth=0.6, zorder=0)
    for s in ['top', 'right']:
        ax.spines[s].set_visible(False)
    for s in ['left', 'bottom']:
        ax.spines[s].set_color('#9a9a9a')
        ax.spines[s].set_linewidth(0.8)
    ax.set_xticks(x)
    ax.set_xticklabels(tick_labels, rotation=-90, fontsize=6.5)
    ax.tick_params(axis='x', length=2.5, width=0.5, color='#777777', pad=1.5)
    ax.tick_params(axis='y', length=0, labelsize=7, pad=6)
    ax.text(0.015, 0.993, '（2015年1月=1.0）', transform=ax.transAxes, fontsize=6,
            va='top', ha='left')


left_labels = ['1.事業用電力（国内）', '2.事業用電力（輸入）', '3.自家発電', '電力消費量']
right_labels = ['EITE産業（211）', 'Non-EITE産業（212）', '運輸（除家計）（222）', '業務（24）',
                '農林水産業（25）', '運輸（家計）（221）', '家庭（23）', '電力消費量']


def legend(ax, labels, colors, anchor, spacing):
    handles = [Patch(facecolor=c, edgecolor='#1a1a1a', linewidth=0.6) for c in colors]
    handles.append(Line2D([], [], color='black', linewidth=1.2))
    ax.legend(handles, labels, loc='upper left', bbox_to_anchor=anchor, frameon=False,
              fontsize=6.5, labelspacing=spacing, handlelength=2.2, handleheight=0.75,
              handletextpad=0.2, borderpad=0, borderaxespad=0)


def bracket(ax, top, bottom):
    tr = blended_transform_factory(ax.transAxes, ax.transData)
    xb = 1.013
    ax.plot([xb - 0.006, xb, xb, xb - 0.006], [top, top, bottom, bottom], transform=tr,
            color='black', linewidth=0.6, clip_on=False)
    mid = (top + bottom) / 2
    ax.plot([xb, xb + 0.006], [mid, mid], transform=tr, color='black', linewidth=0.6,
            clip_on=False)
    ax.text(xb + 0.026, mid, '家計', transform=tr, fontsize=5, va='center', ha='left',
            clip_on=False)


def energy_panel(ax, line, own, imp, dom, base, lo, hi, step, fmt, anchor, spacing):
    stack(ax, [own, imp, dom], [C_OWN, C_IMP, C_DOM], base)
    ax.axhline(base, color='#333333', linewidth=0.6, zorder=2.5)
    ax.plot(x, np.ravel(line) / 100, color='black', linewidth=1.0, zorder=3)
    style(ax, lo, hi, step, fmt)
    legend(ax, left_labels, [C_DOM, C_IMP, C_OWN], anchor, spacing)


def sector_panel(ax, line, hh, trh, agr, biz, trn, neite, eite, lo, hi, step, fmt,
                 anchor, spacing, show_bracket):
    stack(ax, [hh, trh, agr, biz, trn, neite, eite],
          [C_HH, C_TRH, C_AGR, C_BIZ, C_TRN, C_NEITE, C_EITE], 1.0)
    ax.axhline(1.0, color='black', linewidth=0.7, zorder=2.5)
    ax.plot(x, np.ravel(line) / 100, color='black', linewidth=1.0, zorder=3)
    style(ax, lo, hi, step, fmt)
    legend(ax, right_labels, [C_EITE, C_NEITE, C_TRN, C_BIZ, C_AGR, C_TRH, C_HH],
           anchor, spacing)
    if show_bracket:
        last = 1.0 + (np.ravel(hh)[-1] + np.ravel(trh)[-1]) / 100
        bracket(ax, 1.0, last)


fig = plt.figure(figsize=(10.73, 11.57), dpi=100)

ax1 = fig.add_axes([0.031, 0.719, 0.435, 0.2525])
ax2 = fig.add_axes([0.5405, 0.719, 0.426, 0.2525])
ax3 = fig.add_axes([0.031, 0.3846, 0.435, 0.2541])
ax4 = fig.add_axes([0.5424, 0.3863, 0.424, 0.2524])
ax5 = fig.add_axes([0.031, 0.0519, 0.435, 0.2515])
ax6 = fig.add_axes([0.5405, 0.0519, 0.426, 0.2515])

energy_panel(ax1, uk_line, uk_own, uk_imp, uk_dom, 0.972, 0.75, 1.15, 0.05, '%.2f',
             (0.047, 0.222), 0.95)
sector_panel(ax2, uk_line, uk_hh, uk_trh, uk_agr, uk_biz, uk_trn, uk_neite, uk_eite,
             0.80, 1.15, 0.05, '%.2f', (0.0875, 0.29), 0.1, True)
energy_panel(ax3, de_line, de_own, de_imp, de_dom, 1.0, 0.80, 1.15, 0.05, '%.2f',
             (0.047, 0.275), 1.25)
sector_panel(ax4, de_line, de_hh, de_trh, de_agr, de_biz, de_trn, de_neite, de_eite,
             0.85, 1.15, 0.05, '%.2f', (0.05, 0.945), 0.35, False)
energy_panel(ax5, fr_line, fr_own, fr_imp, fr_dom, 1.0, 0.7, 1.2, 0.1, '%.1f',
             (0.062, 0.315), 1.35)
sector_panel(ax6, fr_line, fr_hh, fr_trh, fr_agr, fr_biz, fr_trn, fr_neite, fr_eite,
             0.7, 1.2, 0.1, '%.1f', (0.05, 0.4), 0.6, True)

# 国名
fig.text(0.035, 0.987, '（英国）', fontsize=11, va='center', ha='left')
fig.text(0.035, 0.656, '（ドイツ）', fontsize=11, va='center', ha='left')
fig.text(0.035, 0.3215, '（フランス）', fontsize=11, va='center', ha='left')

# 図の下の説明
for y in (0.6768, 0.3414, 0.0095):
    fig.text(0.259, y, '（エネルギー種別寄与度）', fontsize=7.8, ha='center', va='center')
    fig.text(0.769, y, '（消費主体別寄与度）', fontsize=7.8, ha='center', va='center')

fig.savefig('out.png', dpi=100)
